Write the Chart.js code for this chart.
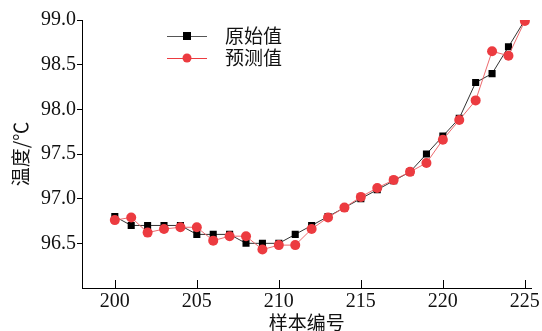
<!DOCTYPE html>
<html><head><meta charset="utf-8">
<script src="https://cdn.jsdelivr.net/npm/chart.js@4/dist/chart.umd.min.js"></script>
<style>html,body{margin:0;padding:0;background:#fff}#wrap{width:542px;height:331px}</style>
</head><body><div id="wrap"><canvas id="c"></canvas></div>
<script>
const sampleIds = [200,201,202,203,204,205,206,207,208,209,210,211,212,213,214,215,216,217,218,219,220,221,222,223,224,225];
const originalValues = [96.8,96.7,96.7,96.7,96.7,96.6,96.6,96.6,96.5,96.5,96.5,96.6,96.7,96.8,96.9,97.0,97.1,97.2,97.3,97.5,97.7,97.9,98.3,98.4,98.7,99.0];
const predictedValues = [96.76,96.79,96.62,96.66,96.68,96.68,96.53,96.58,96.58,96.43,96.48,96.48,96.66,96.79,96.9,97.02,97.12,97.21,97.3,97.4,97.66,97.88,98.1,98.65,98.6,98.99];
const xTickValues = [200,205,210,215,220,225];
const yTickValues = [96.5,97.0,97.5,98.0,98.5,99.0];
const seriesNames = ['原始值','预测值'];
const xTitle = '样本编号';
const yTitle = '温度/℃';

const serif = "'Liberation Serif','DejaVu Serif',serif";
const cjk = "'Noto Sans CJK SC','Noto Sans',sans-serif";

const pts = (vals) => sampleIds.map((x,i)=>({x:x,y:vals[i]}));

const inwardTicks = {
  id:'inwardTicks',
  afterDraw(chart){
    const ctx = chart.ctx, xs = chart.scales.x, area = chart.chartArea;
    ctx.save();
    ctx.strokeStyle = '#000'; ctx.lineWidth = 1;
    xTickValues.forEach(v=>{
      const px = Math.round(xs.getPixelForValue(v))+0.5;
      ctx.beginPath(); ctx.moveTo(px, area.bottom); ctx.lineTo(px, area.bottom-8); ctx.stroke();
    });
    // legend
    const lx0 = 167, lx1 = 207, tx = 225;
    const rows = [{y:36, color:'#000', line:'#555', shape:'sq'},{y:58, color:'#ec3b40', line:'#ec3b40', shape:'ci'}];
    rows.forEach((r,i)=>{
      ctx.strokeStyle = r.line; ctx.lineWidth = 1;
      ctx.beginPath(); ctx.moveTo(lx0, r.y+0.5); ctx.lineTo(lx1, r.y+0.5); ctx.stroke();
      ctx.fillStyle = r.color;
      const cx = (lx0+lx1)/2;
      if (r.shape==='sq') ctx.fillRect(cx-4, r.y-4, 8, 8);
      else { ctx.beginPath(); ctx.arc(cx, r.y, 4.5, 0, Math.PI*2); ctx.fill(); }
      ctx.fillStyle = '#111'; ctx.font = "19px "+cjk; ctx.textBaseline='middle'; ctx.textAlign='left';
      ctx.fillText(seriesNames[i], tx, r.y);
    });
    ctx.restore();
  }
};

new Chart(document.getElementById('c'), {
  type:'scatter',
  data:{datasets:[
    {label:seriesNames[0], data:pts(originalValues), showLine:true, borderColor:'#333', borderWidth:1,
     pointStyle:'rect', pointRadius:5, pointBackgroundColor:'#000', pointBorderColor:'#000', pointBorderWidth:0, order:2},
    {label:seriesNames[1], data:pts(predictedValues), showLine:true, borderColor:'#ec6a6e', borderWidth:1,
     pointStyle:'circle', pointRadius:5, pointBackgroundColor:'#ec3b40', pointBorderColor:'#ec3b40', pointBorderWidth:0, order:1}
  ]},
  options:{
    responsive:true, maintainAspectRatio:false, animation:false,
    layout:{padding:{top:20,right:9,left:0,bottom:0}},
    plugins:{legend:{display:false}, tooltip:{enabled:false}},
    scales:{
      x:{type:'linear', min:198, max:225.4,
        afterBuildTicks(s){ s.ticks = xTickValues.map(v=>({value:v})); },
        afterFit(s){ s.height = 43; },
        grid:{display:true, drawOnChartArea:false, drawTicks:false},
        border:{display:true, color:'#000', width:1},
        ticks:{padding:2, color:'#111', font:{family:serif,size:20}, callback:v=>String(v), maxRotation:0},
        title:{display:true, text:xTitle, color:'#111', font:{family:cjk,size:19}, padding:{top:0,bottom:-3}}
      },
      y:{type:'linear', min:96, max:99,
        afterBuildTicks(s){ s.ticks = yTickValues.map(v=>({value:v})); },
        afterFit(s){ s.width = 82; },
        grid:{display:true, drawOnChartArea:false, drawTicks:true, tickLength:5, color:'#000'},
        border:{display:true, color:'#000', width:1},
        ticks:{padding:1, color:'#111', font:{family:serif,size:20}, callback:v=>v.toFixed(1)},
        title:{display:true, text:yTitle, color:'#111', font:{family:cjk,size:19}, padding:{top:9,bottom:0}}
      }
    }
  },
  plugins:[inwardTicks]
});
</script></body></html>
